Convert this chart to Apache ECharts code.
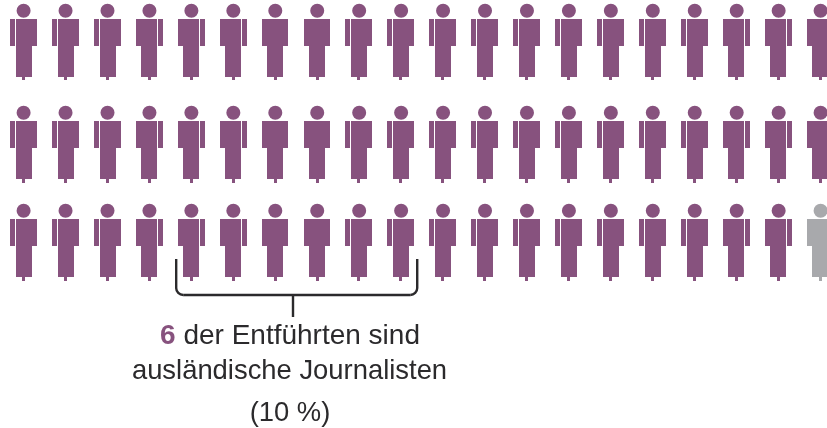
<!DOCTYPE html>
<html>
<head>
<meta charset="utf-8">
<style>html,body{margin:0;padding:0;background:#fff}#c{width:827px;height:428px}</style>
<script src="https://cdn.jsdelivr.net/npm/echarts@6/dist/echarts.min.js"></script>
</head>
<body>
<div id="c"></div>
<script>
// Column indices of the pictogram and the three rows of figures
const columns = [0,1,2,3,4,5,6,7,8,9,10,11,12,13,14,15,16,17,18,19];
const rows = [0,1,2];
// Which side of each column's figure has a detached arm: L, R or none (B)
const armSide = ['L','L','L','R','R','R','B','B','L','L','L','L','L','L','L','L','L','R','R','R'];
// 1 = counted in the highlighted colour, 0 = grey, per row
const row1Tone = [1,1,1,1,1,1,1,1,1,1,1,1,1,1,1,1,1,1,1,1];
const row2Tone = [1,1,1,1,1,1,1,1,1,1,1,1,1,1,1,1,1,1,1,1];
const row3Tone = [1,1,1,1,1,1,1,1,1,1,1,1,1,1,1,1,1,1,1,0];
const toneByRow = [row1Tone, row2Tone, row3Tone];
// Columns spanned by the bracket in the bottom row
const bracketSpan = [4, 9];
const captionValue = '6';
const captionLine1 = ' der Entführten sind';
const captionLine2 = 'ausländische Journalisten';
const captionLine3 = '(10 %)';

const PURPLE = '#87527e', GREY = '#a8a9ac', INK = '#2b2a2c';
const CAPTION_SIZE = 27.4;
const rowNudge = [0, 2, 0];
const footEnd = [61, 62, 62];

const figures = [];
rows.forEach(r => columns.forEach(c => figures.push([c, r, toneByRow[r][c], armSide[c]])));

// One figure: round head plus body blocks snapped to whole pixels so the arm gap stays crisp
function renderFigure(params, api) {
  const row = api.value(1);
  const p = api.coord([api.value(0), row]);
  const cx = p[0], top = p[1] + rowNudge[row];
  const fill = api.value(2) === 1 ? PURPLE : GREY;
  const side = armSide[api.value(0)];
  const style = { fill: fill };
  const halfSpan = { L: 13.85, R: 13.5, B: 13 }[side];
  const left = Math.round(cx - halfSpan);
  const box = (x1, y1, x2, y2) => ({ type: 'rect', shape: { x: left + x1, y: top + y1, width: x2 - x1, height: y2 - y1 }, style });
  const kids = [{ type: 'circle', shape: { cx: cx - 0.1, cy: top - 8.3, r: 7 }, style }];
  if (side === 'L') {
    kids.push(box(0, 0, 5, 27), box(6, 0, 27, 27), box(6, 27, 22, 58));
  } else if (side === 'R') {
    kids.push(box(22, 0, 27, 27), box(0, 0, 21, 27), box(5, 27, 21, 58));
  } else {
    kids.push(box(0, 0, 26, 27), box(5, 27, 21, 58));
  }
  kids.push(box(side === 'R' ? 12 : (side === 'L' ? 12 : 12), 58, 15, footEnd[row]));
  return { type: 'group', children: kids };
}

// Square bracket with rounded lower corners under the spanned columns, plus its stem
function renderBracket(params, api) {
  const a = api.coord([api.value(0), 2]);
  const b = api.coord([api.value(1), 2]);
  const x1 = a[0] - 15.3, x2 = b[0] + 16, y0 = a[1] + 40, y1 = a[1] + 76, rad = 7;
  const stemX = 293;
  const style = { fill: null, stroke: INK, lineWidth: 2.4 };
  const line = (xa, ya, xb, yb) => ({ type: 'line', shape: { x1: xa, y1: ya, x2: xb, y2: yb }, style });
  const corner = (cx, from, to) => ({ type: 'arc', shape: { cx: cx, cy: y1 - rad, r: rad, startAngle: from, endAngle: to, clockwise: true }, style });
  return {
    type: 'group',
    children: [
      line(x1, y0, x1, y1 - rad),
      corner(x1 + rad, Math.PI / 2, Math.PI),
      line(x1 + rad, y1, x2 - rad, y1),
      corner(x2 - rad, 0, Math.PI / 2),
      line(x2, y1 - rad, x2, y0),
      line(stemX, y1, stemX, y1 + 22)
    ]
  };
}

const chart = echarts.init(document.getElementById('c'), null, { renderer: 'canvas' });
const captionFont = { fontFamily: 'Liberation Sans', fontSize: CAPTION_SIZE, fill: INK };
chart.setOption({
  animation: false,
  backgroundColor: '#fff',
  grid: { left: 23.7, width: 797, top: 19, height: 200 },
  xAxis: { type: 'value', min: 0, max: 19, show: false },
  yAxis: { type: 'value', min: 0, max: 2, inverse: true, show: false },
  series: [
    { type: 'custom', coordinateSystem: 'cartesian2d', clip: false, renderItem: renderFigure, data: figures, silent: true },
    { type: 'custom', coordinateSystem: 'cartesian2d', clip: false, renderItem: renderBracket, data: [bracketSpan], silent: true }
  ],
  graphic: [
    { type: 'text', x: 290, y: 336, style: {
        text: '{v|' + captionValue + '}{t|' + captionLine1 + '}',
        align: 'center', verticalAlign: 'middle',
        rich: {
          v: { fontFamily: 'Liberation Sans', fontSize: 28, fontWeight: 'bold', fill: PURPLE, color: PURPLE },
          t: { fontFamily: 'Liberation Sans', fontSize: 28, fill: INK, color: INK }
        }
    } },
    { type: 'text', x: 289.5, y: 371, style: Object.assign({ text: captionLine2, align: 'center', verticalAlign: 'middle' }, captionFont) },
    { type: 'text', x: 290, y: 413, style: Object.assign({ text: captionLine3, align: 'center', verticalAlign: 'middle' }, captionFont) }
  ]
});
</script>
</body>
</html>
